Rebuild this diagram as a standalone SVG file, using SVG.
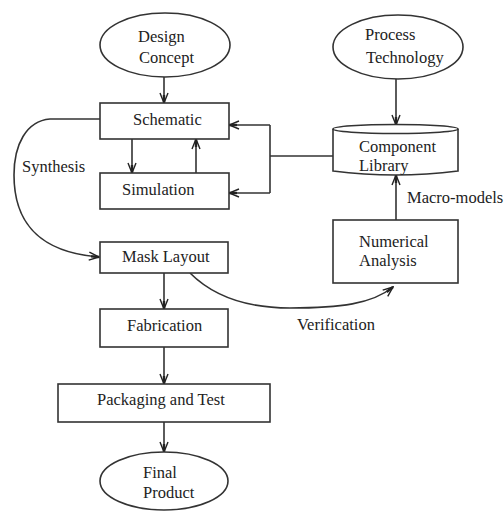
<svg xmlns="http://www.w3.org/2000/svg" width="504" height="512" viewBox="0 0 504 512">
<style>
.n{fill:#fff;stroke:#333;stroke-width:1.6}
.t{font-family:'Liberation Serif','DejaVu Serif','Times New Roman',serif;font-size:16.5px;fill:#222}
.c{fill:none;stroke:#333;stroke-width:1.6}
</style>
<defs>
<marker id="ah" viewBox="0 0 12 10" refX="11" refY="5" markerWidth="12" markerHeight="10" markerUnits="userSpaceOnUse" orient="auto">
<path d="M1,1 L11,5 L1,9" fill="none" stroke="#222" stroke-width="1.4"/>
<path d="M3,5 L11,5" stroke="#222" stroke-width="2.4"/>
</marker>
</defs>
<rect width="504" height="512" fill="#fff"/>
<g id="connectors">
<path class="c" d="M164,77 L164,103" marker-end="url(#ah)"/>
<path class="c" d="M132,139 L132,173" marker-end="url(#ah)"/>
<path class="c" d="M196,173 L196,139" marker-end="url(#ah)"/>
<path class="c" d="M396,79 L396,125" marker-end="url(#ah)"/>
<path class="c" d="M333,156 L270,156"/>
<path class="c" d="M270,125 L270,193"/>
<path class="c" d="M270,125 L229,125" marker-end="url(#ah)"/>
<path class="c" d="M270,193 L229,193" marker-end="url(#ah)"/>
<path class="c" d="M396,220 L396,175" marker-end="url(#ah)"/>
<path class="c" d="M100,119 L50,119 C26,121 14,145 14,175 C14,222 38,252 99,257" marker-end="url(#ah)"/>
<path class="c" d="M190,273 C215,298 250,308 290,308 C340,308 372,304 393,287" marker-end="url(#ah)"/>
<path class="c" d="M164,273 L164,309" marker-end="url(#ah)"/>
<path class="c" d="M164,347 L164,384" marker-end="url(#ah)"/>
<path class="c" d="M164,422 L164,452" marker-end="url(#ah)"/>
<text class="t" x="22" y="172">Synthesis</text>
<text class="t" x="407" y="203">Macro-models</text>
<text class="t" x="297" y="330">Verification</text>
</g>
<g id="design-concept">
<ellipse class="n" cx="165" cy="45" rx="65" ry="32"/>
<text class="t" x="138" y="42">Design</text>
<text class="t" x="139" y="63">Concept</text>
</g>
<g id="process-technology">
<ellipse class="n" cx="398" cy="47" rx="65" ry="32"/>
<text class="t" x="365" y="40">Process</text>
<text class="t" x="366" y="63">Technology</text>
</g>
<g id="schematic">
<rect class="n" x="100" y="103" width="129" height="36"/>
<text class="t" x="133" y="125">Schematic</text>
</g>
<g id="simulation">
<rect class="n" x="100" y="173" width="129" height="36"/>
<text class="t" x="122" y="195">Simulation</text>
</g>
<g id="component-library">
<path class="n" d="M333,129 L333,171 Q395.5,179 458,171 L458,129"/>
<ellipse class="n" cx="395.5" cy="129" rx="62.5" ry="4.5"/>
<text class="t" x="359" y="152">Component</text>
<text class="t" x="359" y="171">Library</text>
</g>
<g id="numerical-analysis">
<rect class="n" x="333" y="220" width="125" height="63"/>
<text class="t" x="359" y="247">Numerical</text>
<text class="t" x="359" y="266">Analysis</text>
</g>
<g id="mask-layout">
<rect class="n" x="100" y="242" width="128" height="31"/>
<text class="t" x="122" y="262">Mask Layout</text>
</g>
<g id="fabrication">
<rect class="n" x="100" y="309" width="128" height="38"/>
<text class="t" x="127" y="331">Fabrication</text>
</g>
<g id="packaging-and-test">
<rect class="n" x="58" y="384" width="212" height="38"/>
<text class="t" x="97" y="405">Packaging and Test</text>
</g>
<g id="final-product">
<ellipse class="n" cx="164" cy="481" rx="64" ry="29"/>
<text class="t" x="143" y="478">Final</text>
<text class="t" x="143" y="498">Product</text>
</g>
</svg>
